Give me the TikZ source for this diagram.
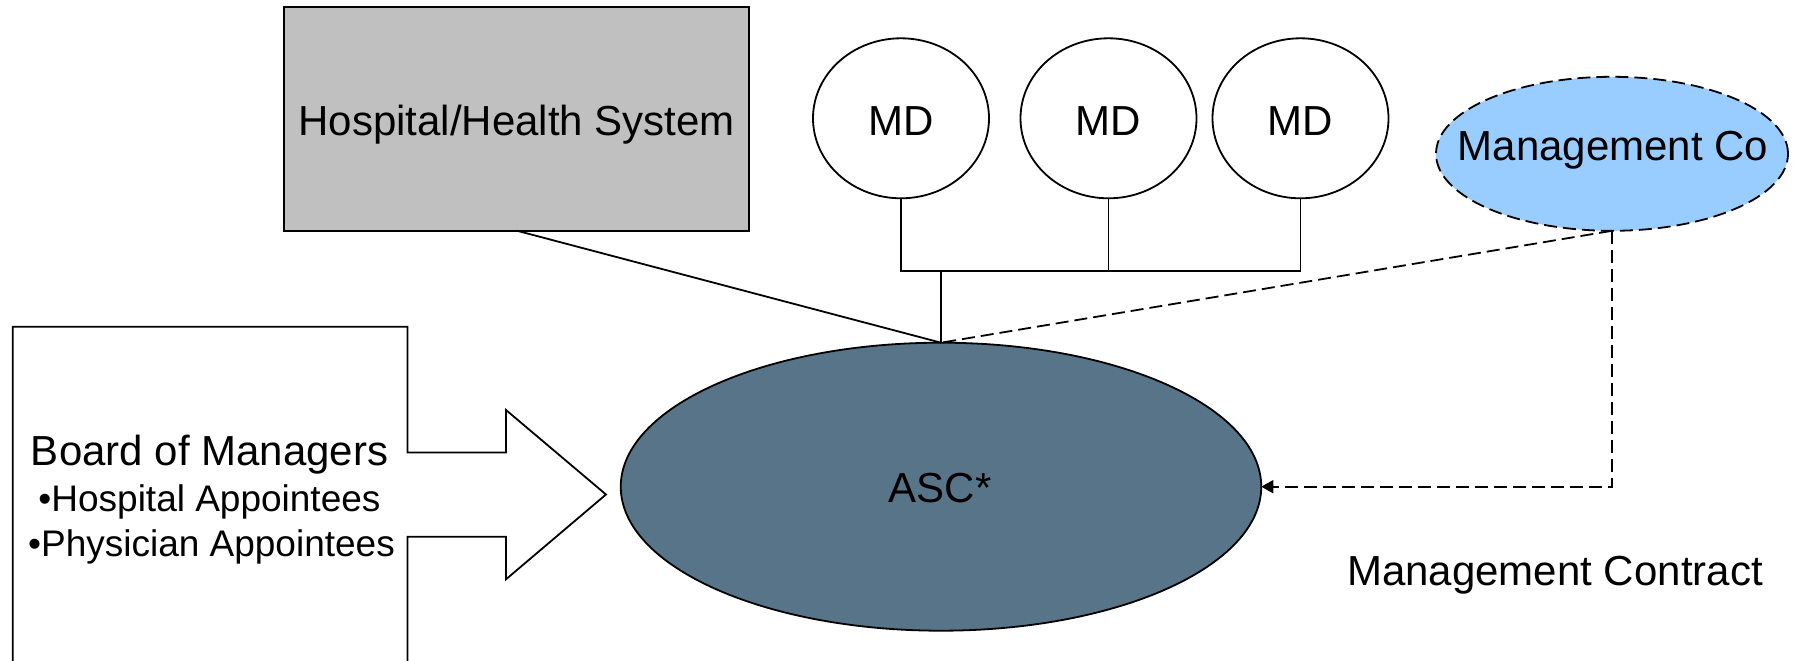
\documentclass[tikz,border=0pt]{standalone}
\usepackage{fontspec}
\setmainfont{Liberation Sans}
\usetikzlibrary{shapes.geometric,arrows.meta}
\definecolor{hospgray}{HTML}{C0C0C0}
\definecolor{ascblue}{HTML}{587489}
\definecolor{mgmtblue}{HTML}{99CCFF}
\tikzset{
  conn/.style={line width=1.8pt},
  dconn/.style={line width=1.8pt, dash pattern=on 13pt off 6pt},
  bigtxt/.style={font=\fontsize{42}{48}\selectfont, anchor=base, inner sep=0pt},
  smalltxt/.style={font=\fontsize{37}{44}\selectfont, anchor=base, inner sep=0pt},
  ovalnode/.style={ellipse, draw, line width=1.8pt, inner sep=0pt, outer sep=0pt},
  mdnode/.style={ovalnode, fill=white, minimum width=176pt, minimum height=160pt},
}
\begin{document}
\begin{tikzpicture}[x=1pt,y=-1pt]
\useasboundingbox (0,0) rectangle (1797,661);
\clip (0,0) rectangle (1797,661);
% Board of Managers callout
\draw[line width=1.8pt, fill=white]
  (12.7,700) -- (12.7,326.7) -- (407.5,326.7) -- (407.5,452.5) -- (506,452.5)
  -- (506,410) -- (606,494.5) -- (506,579.3) -- (506,536.7) -- (407.5,536.7)
  -- (407.5,700);
\node[bigtxt] (board) at (209.6,465) {Board of Managers};
\node[smalltxt] (hospapp) at (209.5,511.7) {\textbullet Hospital Appointees};
\node[smalltxt] (physapp) at (211.5,556.7) {\textbullet Physician Appointees};
% Hospital
\node[draw, line width=1.8pt, fill=hospgray, minimum width=465pt, minimum height=224pt,
      inner sep=0pt, outer sep=0pt] (hosp) at (516.8,118.7) {};
\node[bigtxt] (hosptxt) at (516.7,135) {Hospital/Health System};
% MDs
\node[mdnode] (md1) at (901,118.3) {};
\node[mdnode] (md2) at (1108.5,118.3) {};
\node[mdnode] (md3) at (1300.5,118.3) {};
\node[bigtxt] (md1txt) at (901,135) {MD};
\node[bigtxt] (md2txt) at (1108.5,135) {MD};
\node[bigtxt] (md3txt) at (1300.5,135) {MD};
% Management Co
\node[ovalnode, dconn, fill=mgmtblue, minimum width=352pt, minimum height=154pt] (mgmt) at (1612,153.8) {};
\node[bigtxt] (mgmttxt) at (1613,160) {Management Co};
% ASC
\node[ovalnode, fill=ascblue, minimum width=640.5pt, minimum height=288pt] (asc) at (941,486.7) {};
\node[bigtxt] (asctxt) at (940,502.7) {ASC*};
% label
\node[bigtxt] (contract) at (1555,585.7) {Management Contract};
% connectors
\coordinate (bus) at (941,270.7);
\draw[conn] (hosp.south) -- (asc.north);
\draw[conn] (md1.south) |- (bus) -| (md3.south);
\draw[conn] (md2.south) -- (md2.south |- bus);
\draw[conn] (asc.north) -- (bus);
\draw[dconn] (mgmt.south) -- (asc.north);
\draw[dconn, -{Triangle[length=12pt,width=13pt]}] (mgmt.south) |- (asc.east);
\end{tikzpicture}
\end{document}
